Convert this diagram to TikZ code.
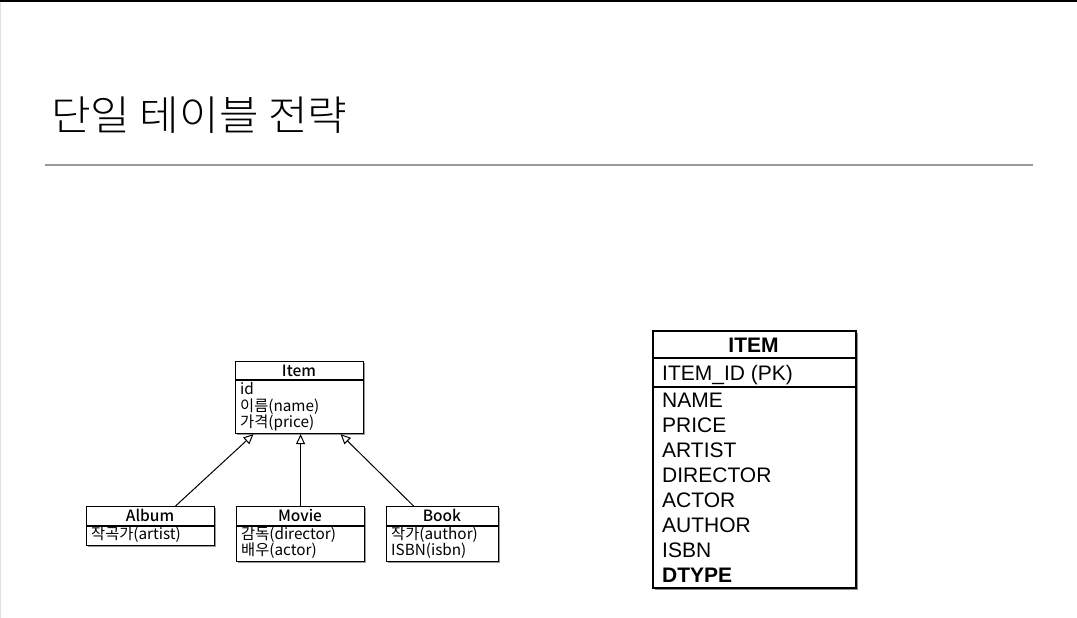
\documentclass[tikz,border=0pt]{standalone}
\usepackage{fontspec}
\setmainfont{Noto Sans CJK KR}
\IfFontExistsTF{Noto Sans CJK KR Light}
  {\newfontfamily\titlefont[FakeStretch=1.05]{Noto Sans CJK KR Light}}
  {\newfontfamily\titlefont[FakeStretch=1.05]{Noto Sans CJK KR}}
\IfFontExistsTF{Noto Sans CJK KR Medium}
  {\newfontfamily\headfont{Noto Sans CJK KR Medium}}
  {\newfontfamily\headfont{Noto Sans CJK KR}}
\newfontfamily\tabfont{Liberation Sans}
\usetikzlibrary{arrows.meta,shadows}
\begin{document}
\begin{tikzpicture}[x=1pt,y=-1pt,
  umlbox/.style={draw, line width=1.1pt, fill=white, anchor=north west, inner sep=0pt,
    drop shadow={shadow xshift=1.5pt, shadow yshift=-1.5pt, fill=black, opacity=0.4}},
  tblbox/.style={draw, line width=1.5pt, fill=white, anchor=north west, inner sep=0pt,
    drop shadow={shadow xshift=2pt, shadow yshift=-2.5pt, fill=black, opacity=0.45}},
  umlhead/.style={anchor=base, inner sep=0pt, font=\headfont\fontsize{15.5}{17}\selectfont},
  umlrow/.style={anchor=base west, inner sep=0pt, font=\fontsize{15.3}{17}\selectfont},
  tblhead/.style={anchor=base, inner sep=0pt, font=\tabfont\bfseries\fontsize{21}{25}\selectfont},
  tblrow/.style={anchor=base west, inner sep=0pt, font=\tabfont\fontsize{21}{25}\selectfont},
  gen/.style={line width=1pt, -{Triangle[open, length=10pt, width=9pt]}}
]
\useasboundingbox (0,0) rectangle (1077,618);
\fill[white] (0,0) rectangle (1077,618);
\fill[black] (0,0) rectangle (1077,2.5);
\fill[black!12] (0,2.5) rectangle (1.2,618);

% title
\node[anchor=base west, inner sep=0pt, font=\titlefont\fontsize{41}{45}\selectfont] (title) at (51,131) {단일 테이블 전략};
\draw[black!40, line width=1.3pt] (45,165) -- (1033,165);

% UML classes
\node[umlbox, minimum width=128pt, minimum height=72pt] (item) at (235,361) {};
\draw[line width=1.1pt] ([yshift=-19pt]item.north west) -- ([yshift=-19pt]item.north east);
\node[umlhead] (itemh) at (299,376) {Item};
\node[umlrow] (itemr1) at (240,394.5) {id};
\node[umlrow] (itemr2) at (240,411) {이름(name)};
\node[umlrow] (itemr3) at (240,427.5) {가격(price)};

\node[umlbox, minimum width=128pt, minimum height=39pt] (album) at (86,506) {};
\draw[line width=1.1pt] ([yshift=-20pt]album.north west) -- ([yshift=-20pt]album.north east);
\node[umlhead] (albumh) at (150,521) {Album};
\node[umlrow] (albumr1) at (91,539) {작곡가(artist)};

\node[umlbox, minimum width=128pt, minimum height=55pt] (movie) at (236,506) {};
\draw[line width=1.1pt] ([yshift=-20pt]movie.north west) -- ([yshift=-20pt]movie.north east);
\node[umlhead] (movieh) at (300,521) {Movie};
\node[umlrow] (movier1) at (241,539) {감독(director)};
\node[umlrow] (movier2) at (241,555.5) {배우(actor)};

\node[umlbox, minimum width=112pt, minimum height=55pt] (book) at (386,506) {};
\draw[line width=1.1pt] ([yshift=-20pt]book.north west) -- ([yshift=-20pt]book.north east);
\node[umlhead] (bookh) at (442,521) {Book};
\node[umlrow] (bookr1) at (391,539) {작가(author)};
\node[umlrow] (bookr2) at (391,555.5) {ISBN(isbn)};

% generalisation arrows
\draw[gen] ([xshift=25pt]album.north) -- ([xshift=-46pt]item.south);
\draw[gen] (movie.north) -- (movie.north |- item.south);
\draw[gen] ([xshift=-29pt]book.north) -- ([xshift=41pt]item.south);

% table
\node[tblbox, minimum width=203pt, minimum height=257pt] (tbl) at (652,330) {};
\draw[line width=1.5pt] ([yshift=-28pt]tbl.north west) -- ([yshift=-28pt]tbl.north east);
\draw[line width=1.5pt] ([yshift=-57pt]tbl.north west) -- ([yshift=-57pt]tbl.north east);
\node[tblhead] (tblh) at (753.5,352) {ITEM};
\node[tblrow] (pk) at (662,380) {ITEM\_ID (PK)};
\node[tblrow] (c1) at (662,407) {NAME};
\node[tblrow] (c2) at (662,432) {PRICE};
\node[tblrow] (c3) at (662,457) {ARTIST};
\node[tblrow] (c4) at (662,482) {DIRECTOR};
\node[tblrow] (c5) at (662,507) {ACTOR};
\node[tblrow] (c6) at (662,532) {AUTHOR};
\node[tblrow] (c7) at (662,557) {ISBN};
\node[tblrow, font=\tabfont\bfseries\fontsize{21}{25}\selectfont] (c8) at (662,582) {DTYPE};
\end{tikzpicture}
\end{document}
